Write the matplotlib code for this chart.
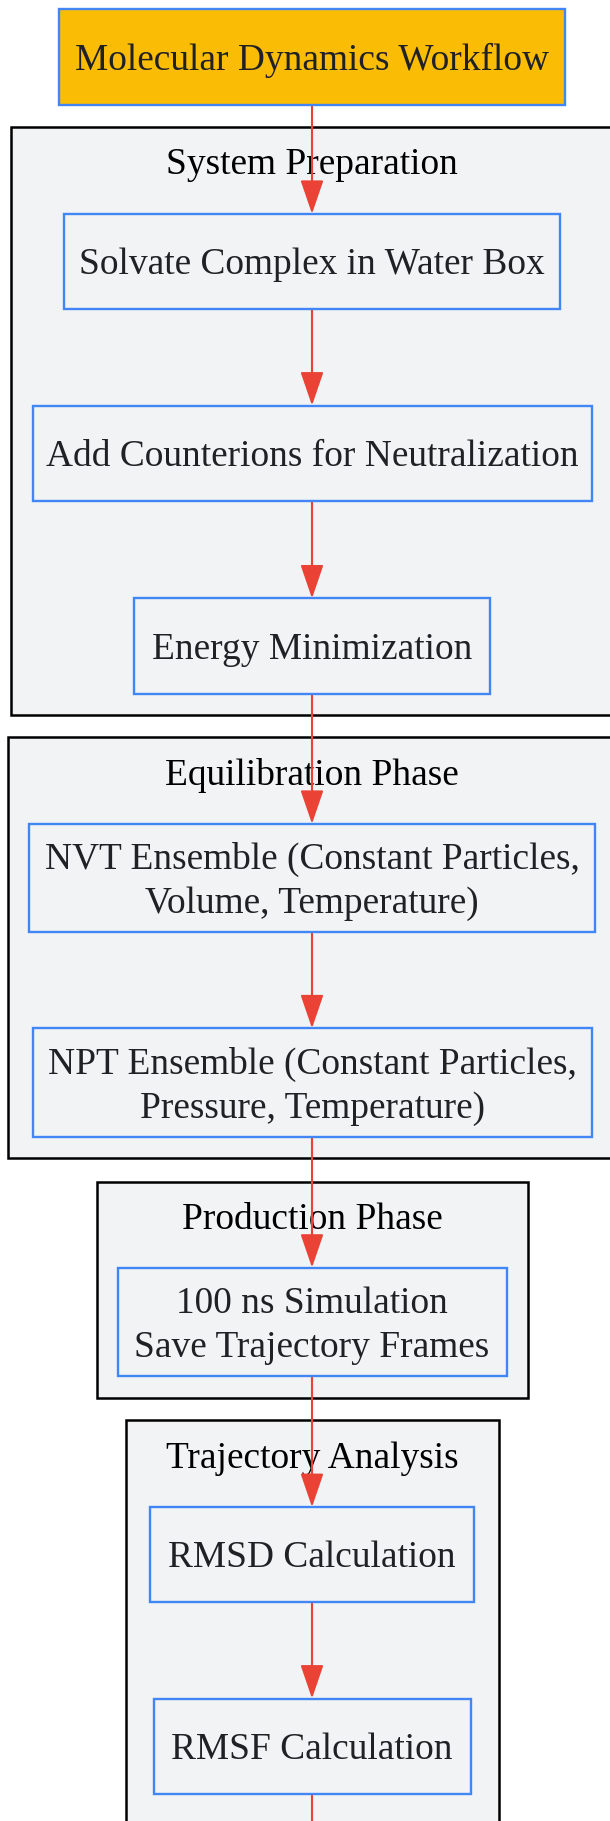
import matplotlib
matplotlib.use("Agg")
import matplotlib.pyplot as plt
from matplotlib.patches import Rectangle, FancyArrowPatch, ArrowStyle

# --- diagram content ---
title = "Molecular Dynamics Workflow"
clusters = ["System Preparation", "Equilibration Phase", "Production Phase", "Trajectory Analysis"]
steps = [
    "Solvate Complex in Water Box",
    "Add Counterions for Neutralization",
    "Energy Minimization",
    "NVT Ensemble (Constant Particles,\nVolume, Temperature)",
    "NPT Ensemble (Constant Particles,\nPressure, Temperature)",
    "100 ns Simulation\nSave Trajectory Frames",
    "RMSD Calculation",
    "RMSF Calculation",
]
step_cluster = [0, 0, 0, 1, 1, 2, 3, 3]

# --- layout (pixels, y grows downward) ---
W, H = 610, 1821
cx = 312
title_top, title_w, title_h = 9.3, 505.4, 95.3
node_top = [213.8, 405.5, 598.4, 823.8, 1028.3, 1267.6, 1507.0, 1698.5]
node_w = [496, 559, 356.7, 566, 559, 389, 324, 317]
h_one, h_two = 95.3, 108.6
cluster_top = [126.6, 736.7, 1181.6, 1419.8]
cluster_bot = [714.6, 1158.4, 1397.8, 1900]
cluster_w = [603, 608, 431, 373]
text_dy = 3.5  # graphviz sits text a bit lower than matplotlib's centre

blue = "#4285F4"
red = "#EA4335"
yellow = "#FBBC05"
grey = "#F1F3F4"
ink = "#202124"
fs = 26.9
font = "Liberation Serif"

fig = plt.figure(figsize=(W / 100, H / 100), dpi=100)
ax = fig.add_axes([0, 0, 1, 1])
ax.set_xlim(0, W)
ax.set_ylim(H, 0)
ax.axis("off")

# clusters
for name, top, bot, w in zip(clusters, cluster_top, cluster_bot, cluster_w):
    ax.add_patch(Rectangle((cx - w / 2, top), w, bot - top, facecolor=grey,
                           edgecolor="black", lw=1.8, zorder=1))
    ax.text(cx, top + 35 + text_dy, name, ha="center", va="center", fontsize=fs,
            family=font, color="black", zorder=2)

# nodes
boxes = [(title_top, title_w, title_h)]
ax.add_patch(Rectangle((cx - title_w / 2, title_top), title_w, title_h,
                       facecolor=yellow, edgecolor=blue, lw=1.7, zorder=4))
ax.text(cx, title_top + title_h / 2 + text_dy, title, ha="center", va="center",
        fontsize=fs, family=font, color=ink, zorder=5)
for label, top, w in zip(steps, node_top, node_w):
    h = h_two if "\n" in label else h_one
    boxes.append((top, w, h))
    ax.add_patch(Rectangle((cx - w / 2, top), w, h, facecolor=grey,
                           edgecolor=blue, lw=1.7, zorder=4))
    ax.text(cx, top + h / 2 + text_dy, label, ha="center", va="center", fontsize=fs,
            family=font, color=ink, linespacing=1.36, zorder=5)

# edges
style = ArrowStyle("-|>", head_length=21, head_width=7.2)
for (t0, w0, h0), (t1, w1, h1) in zip(boxes[:-1], boxes[1:]):
    ax.add_patch(FancyArrowPatch((cx, t0 + h0), (cx, t1), arrowstyle=style,
                                 mutation_scale=1, color=red, lw=1.5,
                                 shrinkA=0, shrinkB=0, zorder=3))
last_top, last_w, last_h = boxes[-1]
ax.plot([cx, cx], [last_top + last_h, H + 10], color=red, lw=1.5, zorder=3)

fig.savefig("out.png", dpi=100)
